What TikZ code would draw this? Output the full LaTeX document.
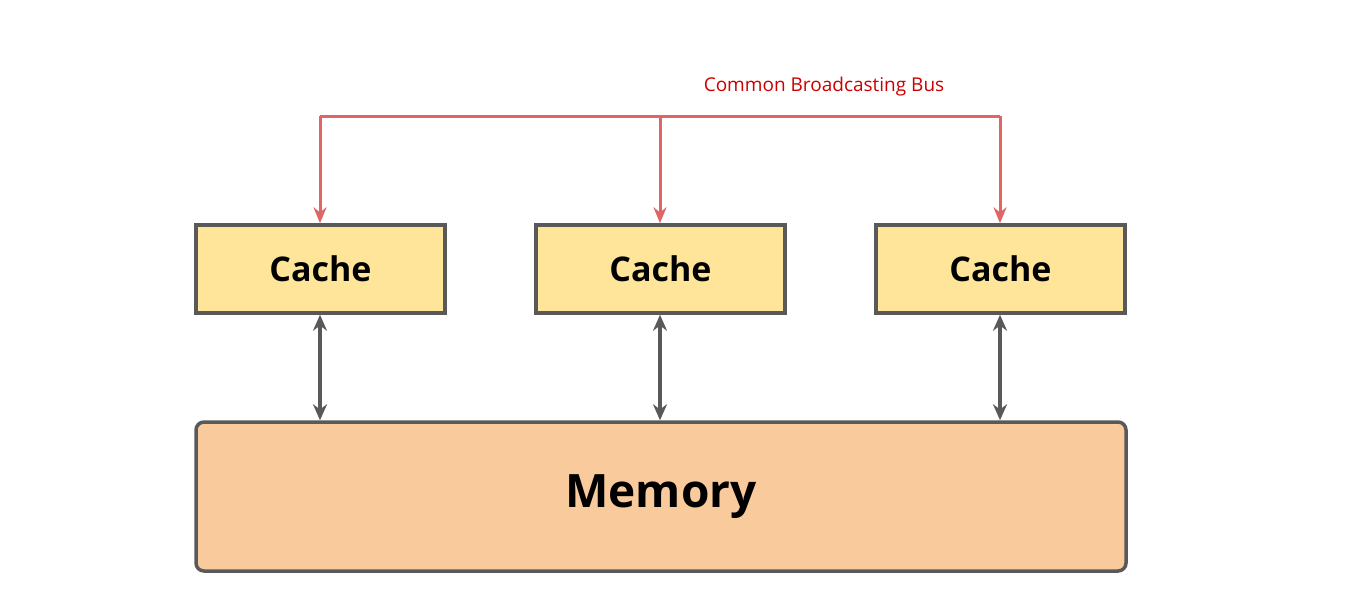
\documentclass[tikz,border=0pt]{standalone}
\usepackage{fontspec}
\setmainfont{Open Sans}
\usetikzlibrary{arrows.meta}
\definecolor{boxline}{HTML}{595959}
\definecolor{cachefill}{HTML}{FFE599}
\definecolor{memfill}{HTML}{F9CB9C}
\definecolor{busline}{HTML}{E06666}
\definecolor{bustext}{HTML}{CC0000}
\begin{document}
\begin{tikzpicture}[x=1pt,y=-1pt,
  cache/.style={draw=boxline,line width=3.5pt,fill=cachefill,minimum width=249pt,minimum height=88pt,inner sep=0pt,font=\fontsize{34}{40}\selectfont\bfseries},
  mem/.style={draw=boxline,line width=3.5pt,fill=memfill,rounded corners=8pt,minimum width=930pt,minimum height=149pt,inner sep=0pt,font=\fontsize{46}{54}\selectfont\bfseries},
  bus/.style={draw=busline,line width=3pt,-{Stealth[length=16pt,width=13pt]}},
  link/.style={draw=boxline,line width=3.5pt,{Stealth[length=16pt,width=14pt]}-{Stealth[length=16pt,width=14pt]}}]
\useasboundingbox (0,0) rectangle (1362,614);
\node[cache] (c1) at (320.5,269) {Cache};
\node[cache] (c2) at (660.5,269) {Cache};
\node[cache] (c3) at (1000.5,269) {Cache};
\node[mem] (m) at (661,496.5) {Memory};
\coordinate (b1) at (320,116);
\coordinate (b2) at (660,116);
\coordinate (b3) at (1000,116);
\draw[busline,line width=3pt] (b1) -- (b3);
\draw[bus] (b1) -- (c1.north -| b1);
\draw[bus] (b2) -- (c2.north -| b2);
\draw[bus] (b3) -- (c3.north -| b3);
\node[text=bustext,font=\fontsize{19}{22}\selectfont] (lbl) at (824,87) {Common Broadcasting Bus};
\foreach \i/\x in {1/320,2/660,3/1000}{
  \draw[link] (c\i.south -| \x,0) -- (m.north -| \x,0);
}
\end{tikzpicture}
\end{document}
